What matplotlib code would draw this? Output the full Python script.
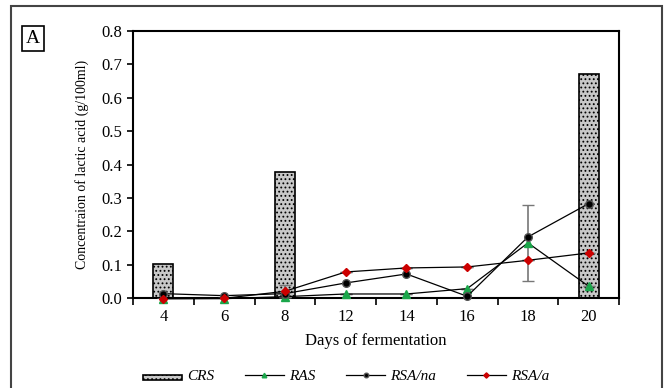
import numpy as np
import matplotlib
matplotlib.use("Agg")
import matplotlib.pyplot as plt
from matplotlib.patches import Rectangle

plt.rcParams['font.family'] = ['Liberation Serif', 'DejaVu Serif']
plt.rcParams['hatch.color'] = '#ffffff'
plt.rcParams['hatch.linewidth'] = 0.8

days = ['4', '6', '8', '12', '14', '16', '18', '20']
crs = [0.103, 0.0, 0.378, 0.0, 0.0, 0.0, 0.0, 0.670]
ras = [-0.002, -0.002, 0.004, 0.012, 0.012, 0.028, 0.165, 0.035]
rsa_na = [0.013, 0.007, 0.013, 0.045, 0.072, 0.005, 0.183, 0.283]
rsa_a = [-0.002, -0.001, 0.020, 0.078, 0.090, 0.093, 0.113, 0.135]
ras_err = [0.0, 0.0, 0.0, 0.0, 0.0, 0.0, 0.115, 0.0]
rsa_a_err = [0.0, 0.0, 0.018, 0.0, 0.0, 0.0, 0.0, 0.0]

x = np.arange(len(days))

fig = plt.figure(figsize=(6.65, 3.88), dpi=100)
ax = fig.add_axes([0.2, 0.232, 0.731, 0.688])

bars = ax.bar(x, crs, width=0.33, color='#c8c8c8', edgecolor='black', linewidth=1.2,
              hatch='....', label='CRS', zorder=2)

# error bars (not in legend)
ax.errorbar(x, ras, yerr=ras_err, fmt='none', ecolor='#777777', elinewidth=1.2,
            capsize=4, zorder=3)
ax.errorbar(x, rsa_a, yerr=rsa_a_err, fmt='none', ecolor='#777777', elinewidth=1.2,
            capsize=4, zorder=3)

l1, = ax.plot(x, ras, color='black', lw=0.9, marker='^', ms=5.5, mfc='#1aa64a',
              mec='#1aa64a', label='RAS', zorder=4, clip_on=False)
l2, = ax.plot(x, rsa_na, color='black', lw=0.9, marker='o', ms=5.5, mfc='black',
              mec='#555555', label='RSA/na', zorder=5, clip_on=False)
l3, = ax.plot(x, rsa_a, color='black', lw=0.9, marker='D', ms=4.5, mfc='#cc0000',
              mec='#cc0000', label='RSA/a', zorder=6, clip_on=False)

ax.set_xlim(-0.5, len(days) - 0.5)
ax.set_ylim(0, 0.8)
ax.set_yticks(np.arange(0, 0.81, 0.1))
ax.set_yticklabels(['%.1f' % v for v in np.arange(0, 0.81, 0.1)])
ax.set_xticks(x)
ax.set_xticklabels(days)
ax.set_xticks(np.arange(-0.5, len(days), 1), minor=True)
ax.tick_params(axis='x', which='major', length=0, pad=8)
ax.tick_params(axis='x', which='minor', length=5, direction='out', width=1.2)
ax.tick_params(axis='y', length=4, direction='out', width=1.2)
ax.tick_params(labelsize=12)
for s in ax.spines.values():
    s.set_linewidth(1.5)

ax.set_xlabel('Days of fermentation', fontsize=12, labelpad=6)
ax.set_ylabel('Concentraion of lactic acid (g/100ml)', fontsize=10, labelpad=9)

leg = fig.legend([bars, l1, l2, l3], ['CRS', 'RAS', 'RSA/na', 'RSA/a'],
                 loc='center', bbox_to_anchor=(0.52, 0.03), ncol=4, frameon=False,
                 prop={'style': 'italic', 'size': 11}, handlelength=2.6,
                 columnspacing=2.0, handletextpad=0.3, markerscale=0.6)
leg.legend_handles[0].set_height(4)

# outer frame and panel label
fig.patches.append(Rectangle((11 / 665, -0.01), 651 / 665, 1 - 6 / 388 + 0.01,
                             transform=fig.transFigure, fill=False,
                             edgecolor='#444444', lw=1.5))
fig.text(0.05, 0.9, 'A', fontsize=14, ha='center', va='center',
         bbox=dict(boxstyle='square,pad=0.2', fc='white', ec='black', lw=1.2))

fig.savefig('out.png', dpi=100)
